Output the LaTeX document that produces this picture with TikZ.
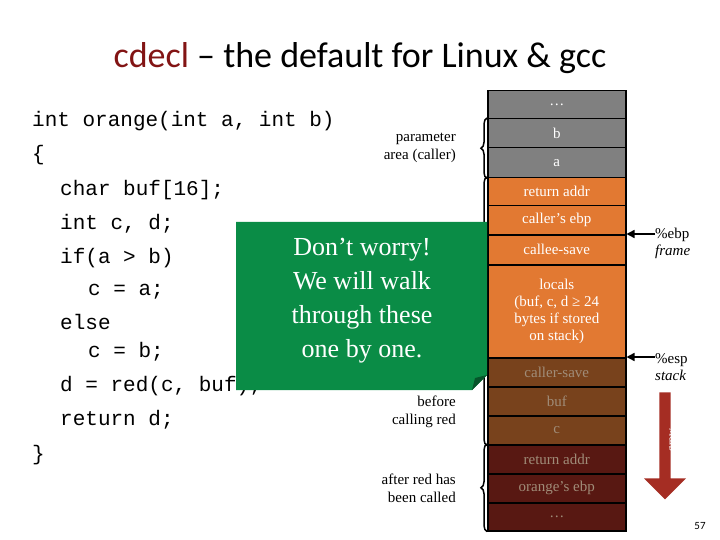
\documentclass[tikz,border=0pt]{standalone}
\usepackage{fontspec}
\setmainfont{Liberation Serif}
\setsansfont{Carlito}
\setmonofont{Liberation Mono}
\usepackage{xcolor}
\usetikzlibrary{positioning, calc, arrows.meta, decorations.pathreplacing, shapes.arrows}
\definecolor{slotgray}{RGB}{128,128,128}
\definecolor{slotorange}{RGB}{226,121,50}
\definecolor{slotbrown}{RGB}{120,66,28}
\definecolor{slotdark}{RGB}{88,24,18}
\definecolor{fadetext}{RGB}{160,140,120}
\definecolor{talkgreen}{RGB}{10,140,70}
\definecolor{titlered}{RGB}{130,20,20}
\definecolor{growred}{RGB}{165,45,35}
\tikzset{slot/.style={draw=black, line width=1.5pt, minimum width=138pt, inner sep=0pt, anchor=north west, align=center, font=\fontsize{15}{17}\selectfont},
  codeline/.style={anchor=west, font=\ttfamily\fontsize{21}{24}\selectfont, inner sep=0pt},
  side/.style={anchor=east, align=right, font=\fontsize{15}{18}\selectfont, inner sep=0pt},
  brace/.style={decorate, decoration={brace, amplitude=6pt}, line width=1.5pt}}
\begin{document}
\begin{tikzpicture}[x=1pt,y=-1pt]
\useasboundingbox (0,0) rectangle (720,540);
% title
\node (title) at (360,58) {\sffamily\fontsize{36}{40}\selectfont\textcolor{titlered}{cdecl} – the default for Linux \& gcc};
% code
\node[codeline] (c1) at (32,121) {int orange(int a, int b)};
\node[codeline] (c2) at (32,155) {\{};
\node[codeline] (c3) at (60,190) {char buf[16];};
\node[codeline] (c4) at (60,224) {int c, d;};
\node[codeline] (c5) at (60,258) {if(a > b)};
\node[codeline] (c6) at (88,292) {c = a;};
\node[codeline] (c7) at (60,322) {else};
\node[codeline] (c8) at (88,352) {c = b;};
\node[codeline] (c9) at (60,386) {d = red(c, buf);};
\node[codeline] (c10) at (60,420) {return d;};
\node[codeline] (c11) at (32,455) {\}};
% stack
\node[slot, fill=slotgray, text=white, minimum height=28pt] (s0) at (487,90) {\dots};
\node[slot, fill=slotgray, text=white, minimum height=29pt] (s1) at (487,118) {b};
\node[slot, fill=slotgray, text=white, minimum height=30pt] (s2) at (487,147) {a};
\node[slot, fill=slotorange, text=white, minimum height=28pt] (s3) at (487,177) {return addr};
\node[slot, fill=slotorange, text=white, minimum height=29pt] (s4) at (487,205) {caller’s ebp};
\node[slot, fill=slotorange, text=white, minimum height=30pt] (s5) at (487,234) {callee-save};
\node[slot, fill=slotorange, text=white, minimum height=93pt] (s6) at (487,264) {locals\\(buf, c, d ≥ 24\\bytes if stored\\on stack)};
\node[slot, fill=slotbrown, text=fadetext, minimum height=29pt] (s7) at (487,357) {caller-save};
\node[slot, fill=slotbrown, text=fadetext, minimum height=29pt] (s8) at (487,386) {buf};
\node[slot, fill=slotbrown, text=fadetext, minimum height=29pt] (s9) at (487,415) {c};
\node[slot, fill=slotdark, text=fadetext, minimum height=29pt] (s10) at (487,444) {return addr};
\node[slot, fill=slotdark, text=fadetext, minimum height=29pt] (s11) at (487,473) {orange’s ebp};
\node[slot, fill=slotdark, text=fadetext, minimum height=28pt] (s12) at (487,502) {\dots};
% braces and labels
\draw[brace] (s2.south west) -- (s1.north west);
\draw[brace] (s9.south west) -- (s3.north west);
\draw[brace] (s12.south west) -- (s10.north west);
\node[side] (lparam) at (456,148) {parameter\\area (caller)};
\node[side] (lbefore) at (456,412) {before\\calling red};
\node[side] (lafter) at (456,488) {after red has\\been called};
% green note
\fill[talkgreen] (236,222) -- (487,222) -- (487,375) -- (472,390) -- (236,390) -- cycle;
\fill[talkgreen!60!black] (487,375) -- (472,390) -- (475,378) -- cycle;
\node[text=white, align=center, font=\fontsize{26}{34}\selectfont] (note) at (362,301) {Don’t worry!\\We will walk\\through these\\one by one.};
% registers
\node[anchor=west, align=left, inner sep=0pt, font=\fontsize{15}{17}\selectfont] (ebp) at (655,243) {\%ebp\\\textit{frame}};
\node[anchor=west, align=left, inner sep=0pt, font=\fontsize{15}{17}\selectfont] (esp) at (655,367) {\%esp\\\textit{stack}};
\draw[-{Triangle[length=8pt,width=8pt]}, line width=1.5pt] (ebp.west |- s5.north) -- (s5.north east);
\draw[-{Triangle[length=8pt,width=8pt]}, line width=1.5pt] (esp.west |- s7.north) -- (s7.north east);
\node[single arrow, shape border rotate=270, fill=growred, minimum height=107pt, minimum width=42pt, single arrow head extend=6pt, inner sep=2pt] (grow) at (665,443) {};
\node[rotate=90, text=white, font=\fontsize{11}{13}\selectfont] at (673,440) {grow};
\node[font=\sffamily\fontsize{11}{13}\selectfont] (pg) at (700,526) {57};
\end{tikzpicture}
\end{document}
